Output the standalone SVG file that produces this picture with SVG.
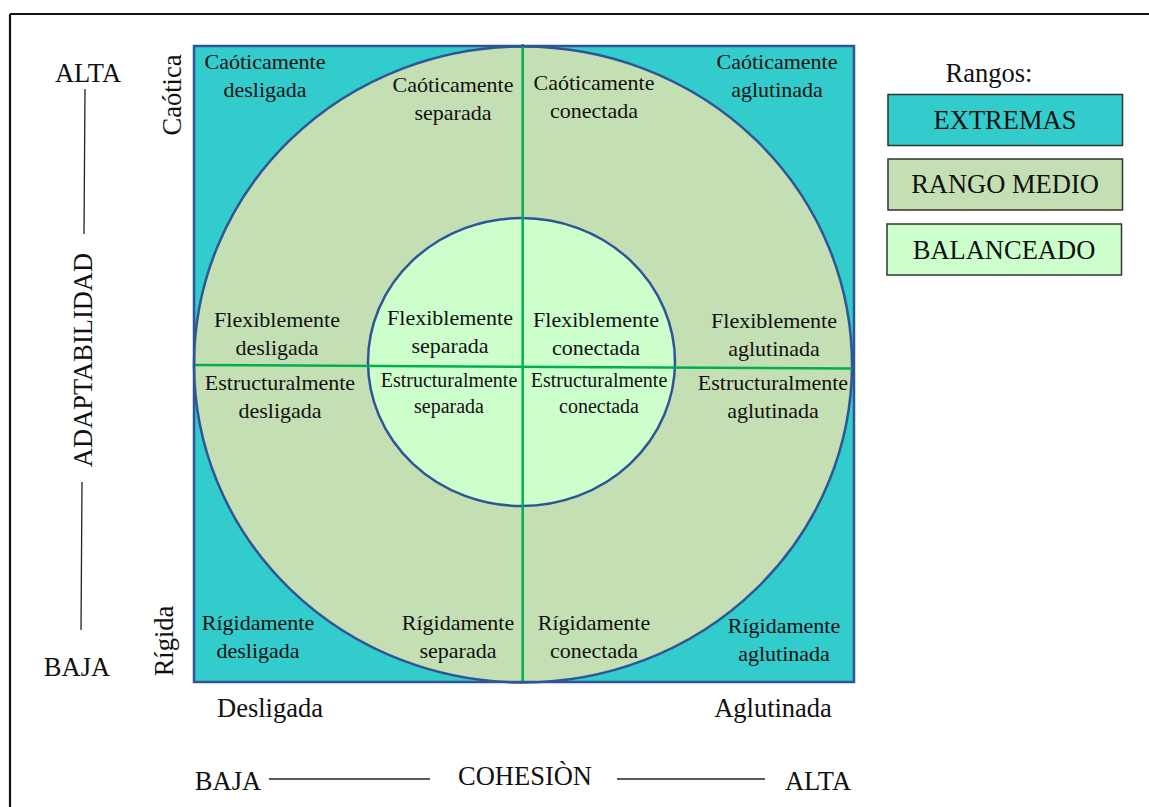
<svg xmlns="http://www.w3.org/2000/svg" width="1149" height="807" viewBox="0 0 1149 807">
<style>
  .big { font-family: "Liberation Serif", "Times New Roman", serif; font-size: 26.5px; fill: #111; }
  .cell { font-family: "Liberation Serif", "Times New Roman", serif; font-size: 22px; fill: #111; text-anchor: middle; }
  .cellsm { font-family: "Liberation Serif", "Times New Roman", serif; font-size: 20px; fill: #111; text-anchor: middle; }
  .mid { text-anchor: middle; }
  .edge { stroke: #2F5597; stroke-width: 2.5; }
  .div { stroke: #00B050; stroke-width: 2.5; fill: none; }
  .axis { stroke: #222; stroke-width: 1.3; fill: none; }
  .leg { stroke: #333; stroke-width: 1.5; }
</style>
<rect x="0" y="0" width="1149" height="807" fill="#ffffff"/>
<g id="frame" fill="none" stroke="#111" stroke-width="2.2">
  <line x1="10" y1="14" x2="1149" y2="14"/>
  <line x1="10" y1="14" x2="10" y2="807"/>
</g>

<g id="zones">
  <rect id="extremas-zone" x="194" y="46" width="660" height="636" fill="#33CCCC"/>
  <ellipse id="rango-medio-zone" cx="523" cy="364.5" rx="329" ry="318" fill="#C5DFB4" class="edge"/>
  <ellipse id="balanceado-zone" cx="521.5" cy="362" rx="153.5" ry="144" fill="#CCFFCC" class="edge"/>
</g>

<g id="connectors">
  <line class="div" x1="522.7" y1="44" x2="522.7" y2="683"/>
  <line class="div" x1="195" y1="365" x2="852" y2="368.5"/>
</g>

<rect id="square-border" x="194" y="46" width="660" height="636" fill="none" class="edge"/>

<g id="cells">
  <g id="caoticamente-desligada"><text class="cell" x="265" y="69">Caóticamente</text><text class="cell" x="265" y="97">desligada</text></g>
  <g id="caoticamente-separada"><text class="cell" x="453" y="92">Caóticamente</text><text class="cell" x="453" y="120">separada</text></g>
  <g id="caoticamente-conectada"><text class="cell" x="594" y="90">Caóticamente</text><text class="cell" x="594" y="118">conectada</text></g>
  <g id="caoticamente-aglutinada"><text class="cell" x="777" y="69">Caóticamente</text><text class="cell" x="777" y="97">aglutinada</text></g>

  <g id="flexiblemente-desligada"><text class="cell" x="277" y="327">Flexiblemente</text><text class="cell" x="277" y="355">desligada</text></g>
  <g id="flexiblemente-separada"><text class="cell" x="450" y="325">Flexiblemente</text><text class="cell" x="450" y="353">separada</text></g>
  <g id="flexiblemente-conectada"><text class="cell" x="596" y="327">Flexiblemente</text><text class="cell" x="596" y="355">conectada</text></g>
  <g id="flexiblemente-aglutinada"><text class="cell" x="774" y="328">Flexiblemente</text><text class="cell" x="774" y="356">aglutinada</text></g>

  <g id="estructuralmente-desligada"><text class="cell" x="280" y="390">Estructuralmente</text><text class="cell" x="280" y="418">desligada</text></g>
  <g id="estructuralmente-separada"><text class="cellsm" x="449" y="387">Estructuralmente</text><text class="cellsm" x="449" y="413">separada</text></g>
  <g id="estructuralmente-conectada"><text class="cellsm" x="599" y="387">Estructuralmente</text><text class="cellsm" x="599" y="413">conectada</text></g>
  <g id="estructuralmente-aglutinada"><text class="cell" x="773" y="390">Estructuralmente</text><text class="cell" x="773" y="418">aglutinada</text></g>

  <g id="rigidamente-desligada"><text class="cell" x="258" y="630">Rígidamente</text><text class="cell" x="258" y="658">desligada</text></g>
  <g id="rigidamente-separada"><text class="cell" x="458" y="630">Rígidamente</text><text class="cell" x="458" y="658">separada</text></g>
  <g id="rigidamente-conectada"><text class="cell" x="594" y="630">Rígidamente</text><text class="cell" x="594" y="658">conectada</text></g>
  <g id="rigidamente-aglutinada"><text class="cell" x="784" y="633">Rígidamente</text><text class="cell" x="784" y="661">aglutinada</text></g>
</g>

<g id="axis-adaptabilidad">
  <text class="big mid" x="88" y="82">ALTA</text>
  <line class="axis" x1="85" y1="89" x2="84" y2="234"/>
  <text class="big mid" transform="translate(92,360) rotate(-90)">ADAPTABILIDAD</text>
  <line class="axis" x1="82" y1="482" x2="81" y2="630"/>
  <text class="big mid" x="77" y="676">BAJA</text>
  <text class="big mid" transform="translate(181,95) rotate(-90)">Caótica</text>
  <text class="big mid" transform="translate(173,641) rotate(-90)">Rígida</text>
</g>

<g id="axis-cohesion">
  <text class="big mid" x="270" y="717">Desligada</text>
  <text class="big mid" x="773" y="717">Aglutinada</text>
  <text class="big mid" x="228" y="790">BAJA</text>
  <line class="axis" x1="269" y1="779" x2="430" y2="779"/>
  <text class="big mid" x="525" y="785">COHESIÒN</text>
  <line class="axis" x1="617" y1="779" x2="765" y2="779"/>
  <text class="big mid" x="818" y="790">ALTA</text>
</g>

<g id="legend">
  <text class="big mid" x="989" y="82">Rangos:</text>
  <g id="legend-extremas"><rect class="leg" x="888" y="94.5" width="234.5" height="51" fill="#33CCCC"/><text class="big mid" x="1005" y="129">EXTREMAS</text></g>
  <g id="legend-rango-medio"><rect class="leg" x="888" y="159" width="234.5" height="51" fill="#C5DFB4"/><text class="big mid" x="1005" y="193">RANGO MEDIO</text></g>
  <g id="legend-balanceado"><rect class="leg" x="887" y="224" width="234.5" height="51" fill="#CCFFCC"/><text class="big mid" x="1004" y="259">BALANCEADO</text></g>
</g>
</svg>
